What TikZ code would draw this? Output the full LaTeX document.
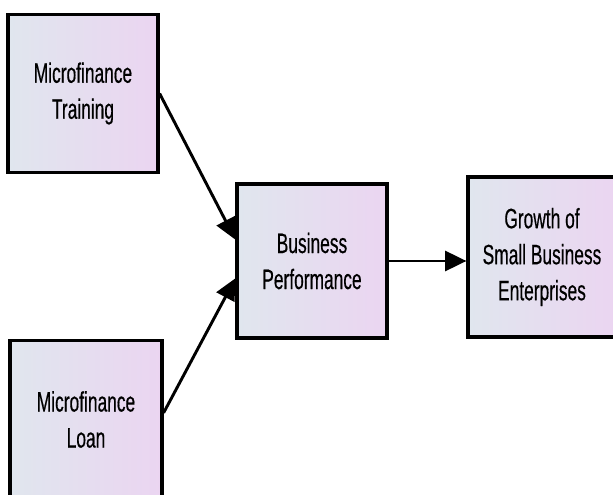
\documentclass[tikz,border=0pt]{standalone}
\usepackage{fontspec}
\setmainfont{Liberation Sans}[FakeStretch=0.62,FakeBold=0.4]
\usepackage{tikz}
\usetikzlibrary{arrows.meta}
\definecolor{boxleft}{RGB}{224,230,238}
\definecolor{boxright}{RGB}{235,213,241}

\begin{document}
\begin{tikzpicture}[x=0.75pt,y=-0.75pt,->,>={Triangle[length=16pt,width=15pt]},line width=2.2pt]
\tikzstyle{every node}=[font=\fontsize{21}{27}\selectfont,text=black]
\tikzstyle{block}=[draw=black,line width=2.4pt,left color=boxleft,right color=boxright,align=center,inner sep=0pt]
\useasboundingbox (0,0) rectangle (613,495);
\clip (0,0) rectangle (613,495);

\node[block,minimum width=112.5pt,minimum height=119pt]   (T)  at (83,93.5)  {Microfinance\\Training};
\node[block,minimum width=114pt,minimum height=119pt]     (L)  at (86,419.5) {Microfinance\\Loan};
\node[block,minimum width=112.5pt,minimum height=115.5pt] (BP) at (312,261)  {Business\\Performance};
\node[block,minimum width=111pt,minimum height=120pt]     (G)  at (542,257)  {Growth of\\Small Business\\Enterprises};

\path
(T.east)             edge ([yshift=16pt]BP.west)
([yshift=5pt]L.east) edge ([yshift=-13pt]BP.west)
(BP.east)            edge (BP.east -| G.west);
\end{tikzpicture}
\end{document}
